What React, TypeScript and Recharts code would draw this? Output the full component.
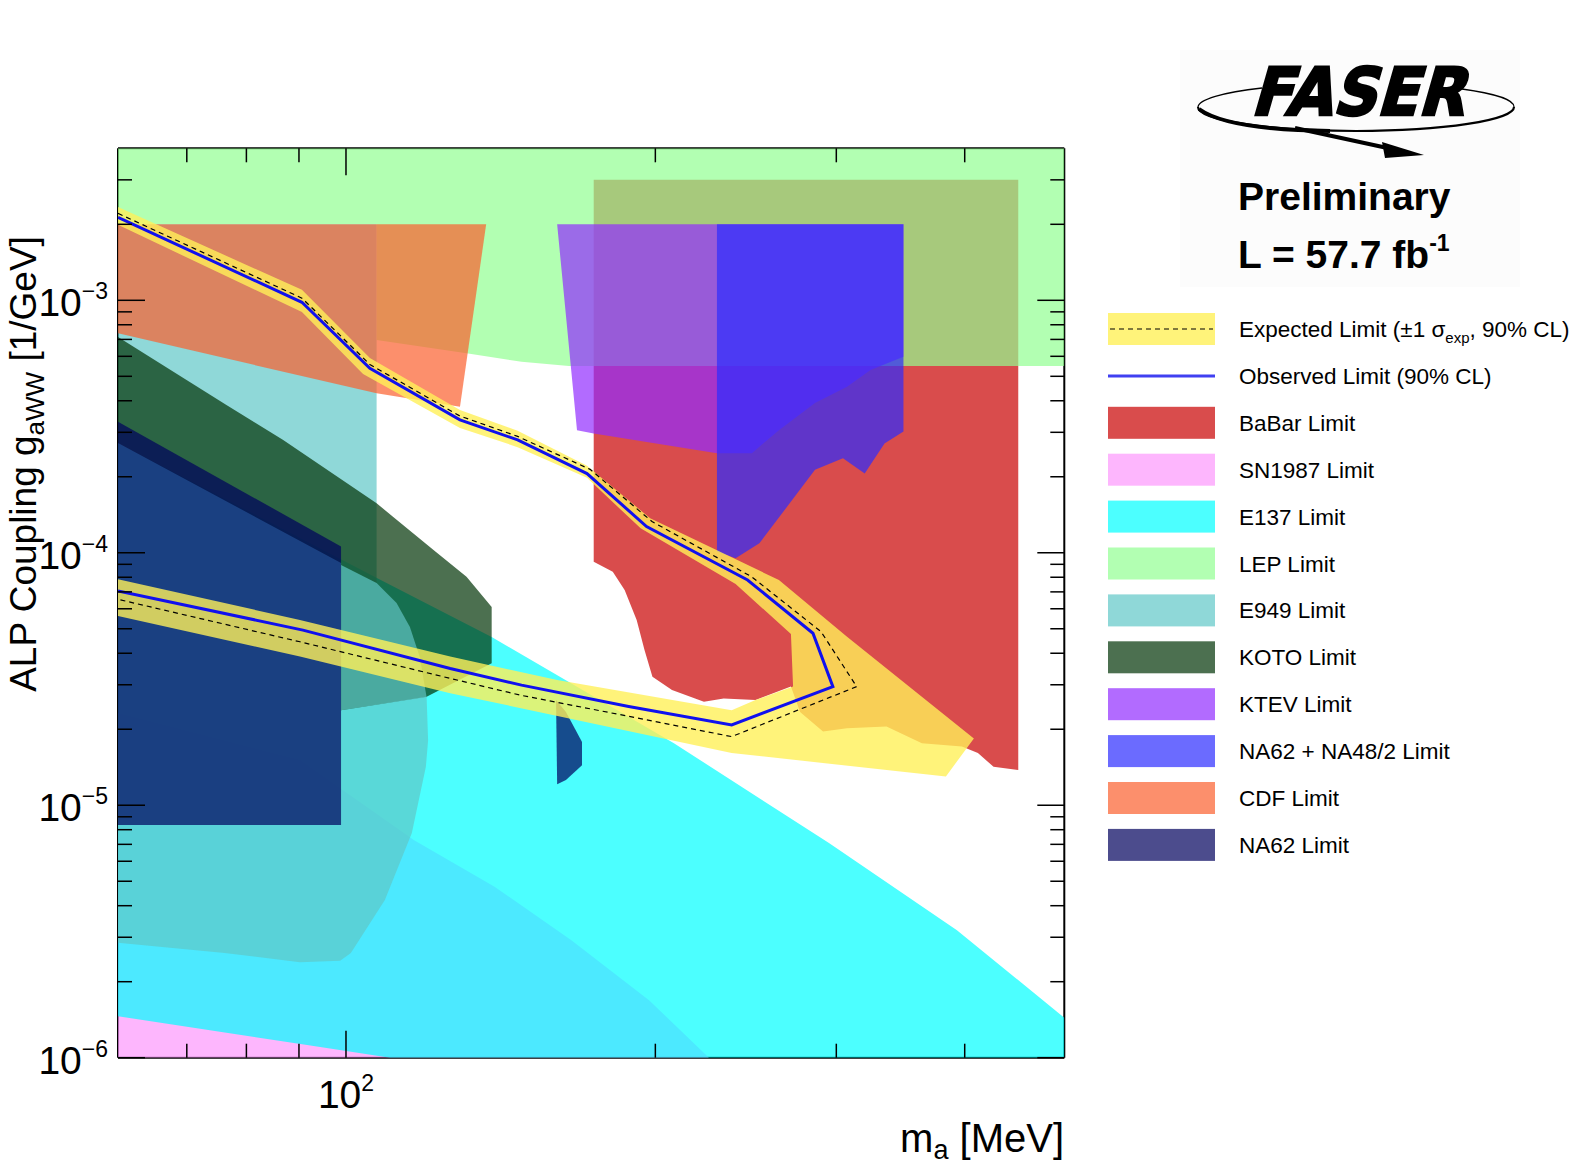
import React from 'react';
import { ComposedChart, Scatter, XAxis, YAxis } from 'recharts';

const FONT = "'Liberation Sans', Arial, Helvetica, sans-serif";

// ---------------- data (m_a [MeV], g_aWW [1/GeV]) ----------------
const SN1987_LIMIT: number[][] = [[60, 2.32e-5], [90.2, 1.51e-5], [116.4, 7.28e-6], [139.5, 4.76e-6], [165.7, 2.92e-6], [197.2, 1.69e-6], [225.5, 1e-6], [60, 1e-6]];
const E137_LIMIT: number[][] = [[60, 2.72e-4], [106.7, 8.02e-5], [138.6, 4.64e-5], [208.5, 1.76e-5], [295.1, 7.09e-6], [393.1, 3.2e-6], [500, 1.44e-6], [500, 1e-6], [110.4, 1e-6], [92.0, 1.12e-6], [60, 1.46e-6]];
const E949_LIMIT: number[][] = [[60, 2e-3], [107.1, 2e-3], [107.1, 7.59e-5], [112.0, 6.32e-5], [115.4, 5.08e-5], [118.0, 3.86e-5], [119.8, 2.68e-5], [120.2, 1.81e-5], [119.6, 1.42e-5], [115.9, 7.76e-6], [109.1, 4.21e-6], [101.1, 2.6e-6], [98.7, 2.42e-6], [90.2, 2.39e-6], [76.2, 2.6e-6], [60, 2.85e-6]];
const E949_LOBE: number[][] = [[98.9, 8.94e-5], [107.1, 7.59e-5], [112.0, 6.32e-5], [115.4, 5.08e-5], [118.0, 3.86e-5], [119.8, 2.68e-5], [98.9, 2.38e-5]];
const KOTO_LIMIT: number[][] = [[60, 7.15e-4], [76.5, 3.85e-4], [86.8, 2.8e-4], [107.1, 1.57e-4], [111.1, 1.39e-4], [121.5, 1.03e-4], [131.0, 8.04e-5], [138.6, 6.1e-5], [138.6, 3.65e-5], [119.8, 2.69e-5], [98.9, 2.38e-5], [98.9, 9.11e-5], [60, 2.72e-4]];
const BABAR_LIMIT: number[][] = [[174.2, 3e-3], [451, 3e-3], [451, 1.38e-5], [426.7, 1.42e-5], [412.0, 1.61e-5], [397.5, 1.71e-5], [363.4, 1.76e-5], [335.7, 2.05e-5], [307.3, 2.02e-5], [291.2, 1.96e-5], [276.6, 2.34e-5], [271.0, 2.95e-5], [250.3, 2.61e-5], [233.1, 2.65e-5], [223.0, 2.57e-5], [207.6, 2.86e-5], [198.7, 3.23e-5], [195.2, 4.12e-5], [191.8, 5.42e-5], [186.7, 7.12e-5], [181.8, 8.41e-5], [174.2, 9.22e-5]];
const LEP_LIMIT: number[][] = [[60, 4e-3], [500, 4e-3], [500, 5.49e-4], [164.8, 5.49e-4], [148.2, 5.71e-4], [131.0, 6.17e-4], [107.1, 6.96e-4], [107.1, 2e-3], [60, 2e-3]];
const CDF_LIMIT: number[][] = [[60, 2e-3], [136.9, 2e-3], [129.1, 3.79e-4], [107.1, 4.28e-4], [60, 7.4e-4]];
const KTEV_LIMIT: number[][] = [[160.5, 2e-3], [348.7, 2e-3], [348.7, 5.98e-4], [323.9, 5.29e-4], [307.3, 4.55e-4], [286.0, 3.92e-4], [263.8, 3.06e-4], [248.3, 2.48e-4], [229.6, 2.48e-4], [174.2, 2.97e-4], [167.8, 3.06e-4]];
const NA62_NA48_LIMIT: number[][] = [[229.6, 2e-3], [348.7, 2e-3], [348.7, 3.02e-4], [334.2, 2.71e-4], [319.7, 2.06e-4], [304.5, 2.37e-4], [286.0, 2.13e-4], [252.5, 1.09e-4], [239.4, 9.51e-5], [229.6, 1.01e-4]];
const NA62_LIMIT: number[][] = [[60, 3.3e-4], [98.9, 1.06e-4], [98.9, 8.35e-6], [60, 8.35e-6]];
const NA62_ISLAND: number[][] = [[160.1, 2.61e-5], [163.7, 2.34e-5], [169.7, 1.78e-5], [169.7, 1.44e-5], [163.7, 1.26e-5], [160.5, 1.21e-5]];
const EXPECTED_BAND: number[][] = [
  [60, 2.34e-3], [90.6, 1.1e-3], [105.5, 5.91e-4], [129.1, 3.68e-4], [146.9, 3.04e-4], [171.6, 2.21e-4], [197.7, 1.37e-4], [263.8, 7.8e-5], [307.3, 4.65e-5], [408.3, 1.84e-5], [383.5, 1.3e-5], [237.3, 1.61e-5], [126.3, 2.78e-5], [90.2, 3.88e-5], [60, 5.62e-5],
  [60, 7.85e-5], [90.2, 5.42e-5], [126.3, 3.88e-5], [160.5, 3.13e-5], [237.3, 2.38e-5], [250.3, 2.61e-5], [272.3, 2.95e-5], [271.0, 4.77e-5], [239.4, 7.52e-5], [193.5, 1.25e-4], [171.6, 1.98e-4], [146.9, 2.62e-4], [129.1, 3.12e-4], [103.9, 5.11e-4], [90.6, 8.99e-4], [60, 1.99e-3],
];
const OBSERVED_LIMIT: number[][] = [[60, 2.13e-3], [90.6, 9.82e-4], [105.5, 5.38e-4], [129.1, 3.36e-4], [146.9, 2.8e-4], [171.6, 2.06e-4], [196.1, 1.27e-4], [245.9, 7.8e-5], [284.7, 4.8e-5], [297.7, 2.95e-5], [237.3, 2.08e-5], [188.4, 2.46e-5], [148.2, 2.99e-5], [126.3, 3.48e-5], [90.8, 4.94e-5], [60, 7.06e-5]];
const EXPECTED_LIMIT: number[][] = [[60, 2.21e-3], [90.6, 1.02e-3], [105.5, 5.57e-4], [129.1, 3.48e-4], [146.9, 2.89e-4], [172.8, 2.14e-4], [198.5, 1.33e-4], [248.1, 8.04e-5], [289.9, 4.87e-5], [314.0, 2.95e-5], [237.3, 1.87e-5], [188.4, 2.25e-5], [147.7, 2.73e-5], [126.3, 3.18e-5], [90.2, 4.44e-5], [60, 6.54e-5]];

const X_TICKS = [70, 80, 90, 100, 200, 300, 400];
const Y_TICKS = [1e-6, 2e-6, 3e-6, 4e-6, 5e-6, 6e-6, 7e-6, 8e-6, 9e-6, 1e-5, 2e-5, 3e-5, 4e-5, 5e-5, 6e-5, 7e-5, 8e-5, 9e-5, 1e-4, 2e-4, 3e-4, 4e-4, 5e-4, 6e-4, 7e-4, 8e-4, 9e-4, 1e-3, 2e-3, 3e-3];

const LEGEND_LABELS = ['BaBar Limit', 'SN1987 Limit', 'E137 Limit', 'LEP Limit', 'E949 Limit', 'KOTO Limit', 'KTEV Limit', 'NA62 + NA48/2 Limit', 'CDF Limit', 'NA62 Limit'];

// ---------------- styles ----------------
const STYLE: Record<string, { fill: string; op: number }> = {
  sn: { fill: 'rgb(252,151,252)', op: 0.7 },
  e137: { fill: 'rgb(0,255,255)', op: 0.7 },
  e949: { fill: 'rgb(96,199,199)', op: 0.7 },
  koto: { fill: 'rgb(0,51,5)', op: 0.7 },
  babar: { fill: 'rgb(201,0,0)', op: 0.7 },
  lep: { fill: 'rgb(146,255,146)', op: 0.7 },
  cdf: { fill: 'rgb(251,95,45)', op: 0.7 },
  ktev: { fill: 'rgb(146,44,255)', op: 0.7 },
  na48: { fill: 'rgb(44,44,255)', op: 0.7 },
  na62: { fill: 'rgb(0,0,92)', op: 0.7 },
  band: { fill: 'rgb(255,240,89)', op: 0.8 },
};
const LEGEND_KEYS = ['babar', 'sn', 'e137', 'lep', 'e949', 'koto', 'ktev', 'na48', 'cdf', 'na62'];
const OBS_COLOR = '#1010ee';

const toPts = (arr: number[][]) => arr.map(([m, g]) => ({ m, g }));

const NoDot = () => <g />;

function fillPolygon(key: string) {
  const s = STYLE[key];
  return (props: any) => {
    const p = (props.points || []).filter((q: any) => q && Number.isFinite(q.x) && Number.isFinite(q.y));
    if (!p.length) return <g />;
    return <polygon points={p.map((q: any) => `${q.x},${q.y}`).join(' ')} fill={s.fill} fillOpacity={s.op} stroke="none" />;
  };
}
function strokePolyline(stroke: string, width: number, dash?: string) {
  return (props: any) => {
    const p = (props.points || []).filter((q: any) => q && Number.isFinite(q.x) && Number.isFinite(q.y));
    if (!p.length) return <g />;
    return <polyline points={p.map((q: any) => `${q.x},${q.y}`).join(' ')} fill="none" stroke={stroke} strokeWidth={width} strokeDasharray={dash} strokeLinejoin="miter" />;
  };
}

const isMajor = (v: number) => Math.abs(Math.log10(v) - Math.round(Math.log10(v))) < 1e-6;
const MAJOR = 27;
const MINOR = 14;

const BottomTick = (props: any) => {
  const { x, y, payload } = props;
  const v = payload.value;
  const major = isMajor(v);
  return (
    <g>
      <line x1={x} x2={x} y1={y} y2={y - (major ? MAJOR : MINOR)} stroke="#000" strokeWidth={1.5} />
      {major && (
        <text x={x} y={y + 50} textAnchor="middle" fontFamily={FONT} fontSize={39} fill="#000">
          10<tspan dy={-17} fontSize={23}>{Math.round(Math.log10(v))}</tspan>
        </text>
      )}
    </g>
  );
};
const TopTick = (props: any) => {
  const { x, y, payload } = props;
  const major = isMajor(payload.value);
  return <line x1={x} x2={x} y1={y} y2={y + (major ? MAJOR : MINOR)} stroke="#000" strokeWidth={1.5} />;
};
const LeftTick = (props: any) => {
  const { x, y, payload } = props;
  const v = payload.value;
  const major = isMajor(v);
  const e = Math.round(Math.log10(v));
  return (
    <g>
      <line x1={x} x2={x + (major ? MAJOR : MINOR)} y1={y} y2={y} stroke="#000" strokeWidth={1.5} />
      {major && (
        <text x={x - 10} y={y + 16} textAnchor="end" fontFamily={FONT} fontSize={39} fill="#000">
          10<tspan dy={-17} fontSize={23}>{'\u2212' + Math.abs(e)}</tspan>
        </text>
      )}
    </g>
  );
};
const RightTick = (props: any) => {
  const { x, y, payload } = props;
  const major = isMajor(payload.value);
  return <line x1={x} x2={x - (major ? MAJOR : MINOR)} y1={y} y2={y} stroke="#000" strokeWidth={1.5} />;
};

const AREAS: [string, number[][]][] = [
  ['sn', SN1987_LIMIT],
  ['e137', E137_LIMIT],
  ['e949', E949_LIMIT],
  ['koto', KOTO_LIMIT],
  ['e949', E949_LOBE],
  ['babar', BABAR_LIMIT],
  ['lep', LEP_LIMIT],
  ['cdf', CDF_LIMIT],
  ['ktev', KTEV_LIMIT],
  ['na48', NA62_NA48_LIMIT],
  ['na62', NA62_LIMIT],
  ['na62', NA62_ISLAND],
  ['band', EXPECTED_BAND],
];

const Overlay = () => {
  const rowY = (i: number) => 329 + 46.9 * i;
  return (
    <svg width={1596} height={1172} style={{ position: 'absolute', left: 0, top: 0, pointerEvents: 'none' }}>
      {/* faint box behind the logo */}
      <rect x={1180} y={50} width={340} height={237} fill="#fcfcfc" />
      {/* FASER logo */}
      <path d="M1198,107 A158,24 0 0,1 1262,88" fill="none" stroke="#000" strokeWidth={1.3} />
      <path d="M1462,89 A158,24 0 0,1 1514,107" fill="none" stroke="#000" strokeWidth={1.3} />
      <path d="M1514,107 A158,24 0 0,1 1198,107" fill="none" stroke="#000" strokeWidth={2.2} />
      <path d="M1199,109 Q1228,130 1330,131" fill="none" stroke="#000" strokeWidth={4} />
      <path d="M1295,128 L1392,149" fill="none" stroke="#000" strokeWidth={4} />
      <polygon points="1382,142 1424,155 1385,158" fill="#000" />
      <g transform="translate(1250,115) skewX(-16)">
        <text x={0} y={0} fontFamily="'DejaVu Sans', sans-serif" fontWeight="bold" fontSize={66} textLength={214} lengthAdjust="spacingAndGlyphs" fill="#000" stroke="#000" strokeWidth={2.5}>FASER</text>
      </g>
      <text x={1238} y={210} fontFamily={FONT} fontWeight="bold" fontSize={39} fill="#000">Preliminary</text>
      <text x={1238} y={268} fontFamily={FONT} fontWeight="bold" fontSize={39} fill="#000">
        L = 57.7 fb<tspan dy={-17} fontSize={23}>-1</tspan>
      </text>

      {/* legend */}
      <rect x={1108} y={rowY(0) - 16} width={107} height={32} fill={STYLE.band.fill} fillOpacity={STYLE.band.op} />
      <line x1={1110} x2={1213} y1={rowY(0)} y2={rowY(0)} stroke="#000" strokeWidth={1.2} strokeDasharray="5 4" />
      <text x={1239} y={rowY(0) + 8} fontFamily={FONT} fontSize={22.5} fill="#000">
        Expected Limit (±1 σ<tspan dy={6} fontSize={15}>exp</tspan><tspan dy={-6}>, 90% CL)</tspan>
      </text>
      <line x1={1108} x2={1215} y1={rowY(1)} y2={rowY(1)} stroke={OBS_COLOR} strokeWidth={3} strokeOpacity={0.8} />
      <text x={1239} y={rowY(1) + 8} fontFamily={FONT} fontSize={22.5} fill="#000">Observed Limit (90% CL)</text>
      {LEGEND_LABELS.map((lab, i) => (
        <g key={lab}>
          <rect x={1108} y={rowY(i + 2) - 16} width={107} height={32} fill={STYLE[LEGEND_KEYS[i]].fill} fillOpacity={STYLE[LEGEND_KEYS[i]].op} />
          <text x={1239} y={rowY(i + 2) + 8} fontFamily={FONT} fontSize={22.5} fill="#000">{lab}</text>
        </g>
      ))}

      {/* axis titles */}
      <text x={1064} y={1152} textAnchor="end" fontFamily={FONT} fontSize={40} fill="#000">
        m<tspan dy={7} fontSize={27}>a</tspan><tspan dy={-7}> [MeV]</tspan>
      </text>
      <text x={36} y={464} transform="rotate(-90, 36, 464)" textAnchor="middle" fontFamily={FONT} fontSize={37} fill="#000">
        ALP Coupling g<tspan dy={8} fontSize={26}>aWW</tspan><tspan dy={-8}> [1/GeV]</tspan>
      </text>
    </svg>
  );
};

export default function App() {
  return (
    <div style={{ position: 'absolute', left: 0, top: 0, width: 1596, height: 1172, background: '#fff' }}>
      <ComposedChart width={1596} height={1172} margin={{ top: 128.3, right: 511.7, bottom: 94.3, left: 98 }}>
        {AREAS.map(([key, arr], i) => (
          <Scatter
            key={'a' + i}
            xAxisId="b"
            yAxisId="l"
            data={toPts(arr)}
            isAnimationActive={false}
            line={fillPolygon(key)}
            shape={NoDot}
            legendType="none"
          />
        ))}
        <Scatter xAxisId="b" yAxisId="l" data={toPts(EXPECTED_LIMIT)} isAnimationActive={false} line={strokePolyline('#000', 1.2, '5 4')} shape={NoDot} />
        <Scatter xAxisId="b" yAxisId="l" data={toPts(OBSERVED_LIMIT)} isAnimationActive={false} line={strokePolyline(OBS_COLOR, 3)} shape={NoDot} />
        <Scatter xAxisId="t" yAxisId="r" data={toPts(OBSERVED_LIMIT)} isAnimationActive={false} shape={NoDot} />

        <XAxis xAxisId="b" dataKey="m" type="number" scale="log" domain={[60, 500]} allowDataOverflow ticks={X_TICKS} interval={0}
          tickSize={0} tickMargin={0} height={20} tick={BottomTick} tickLine={false} axisLine={{ stroke: '#000', strokeWidth: 2 }} orientation="bottom" />
        <XAxis xAxisId="t" dataKey="m" type="number" scale="log" domain={[60, 500]} allowDataOverflow ticks={X_TICKS} interval={0}
          tickSize={0} tickMargin={0} height={20} tick={TopTick} tickLine={false} axisLine={{ stroke: '#000', strokeWidth: 2 }} orientation="top" />
        <YAxis yAxisId="l" dataKey="g" type="number" scale="log" domain={[1e-6, 4e-3]} allowDataOverflow ticks={Y_TICKS} interval={0}
          tickSize={0} tickMargin={0} width={20} tick={LeftTick} tickLine={false} axisLine={{ stroke: '#000', strokeWidth: 2 }} orientation="left" />
        <YAxis yAxisId="r" dataKey="g" type="number" scale="log" domain={[1e-6, 4e-3]} allowDataOverflow ticks={Y_TICKS} interval={0}
          tickSize={0} tickMargin={0} width={20} tick={RightTick} tickLine={false} axisLine={{ stroke: '#000', strokeWidth: 2 }} orientation="right" />
      </ComposedChart>
      <Overlay />
    </div>
  );
}
